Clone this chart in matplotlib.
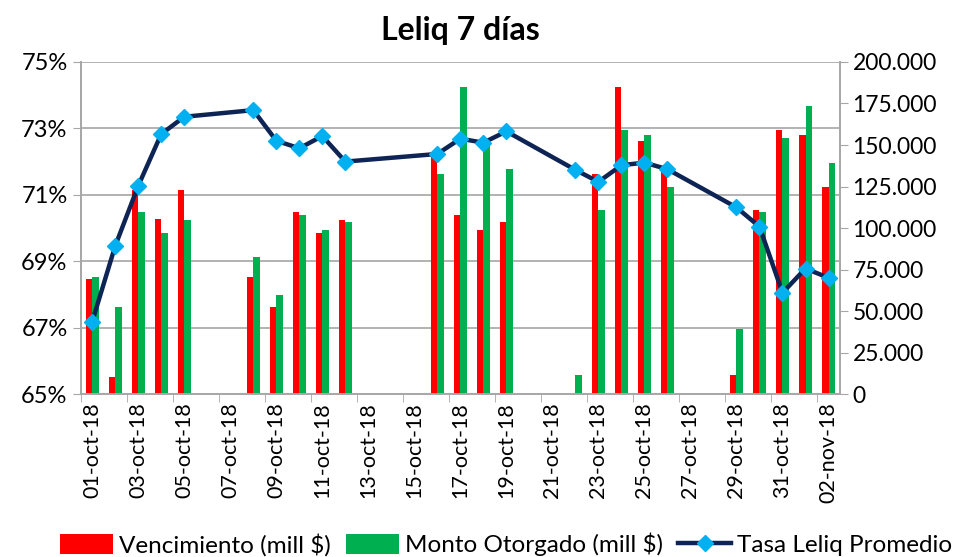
import numpy as np
import matplotlib.pyplot as plt
from matplotlib.ticker import FuncFormatter, MultipleLocator

# datos (01-oct-18 a 02-nov-18)
dias = ["01-oct-18", "02-oct-18", "03-oct-18", "04-oct-18", "05-oct-18", "06-oct-18",
        "07-oct-18", "08-oct-18", "09-oct-18", "10-oct-18", "11-oct-18", "12-oct-18",
        "13-oct-18", "14-oct-18", "15-oct-18", "16-oct-18", "17-oct-18", "18-oct-18",
        "19-oct-18", "20-oct-18", "21-oct-18", "22-oct-18", "23-oct-18", "24-oct-18",
        "25-oct-18", "26-oct-18", "27-oct-18", "28-oct-18", "29-oct-18", "30-oct-18",
        "31-oct-18", "01-nov-18", "02-nov-18"]
nan = np.nan
vencimiento = [69100, 10000, 123000, 105600, 123100, 0, 0, 70300, 52200, 109500, 97200,
               104800, 0, 0, 0, 142900, 108000, 98800, 103400, 0, 0, 0, 132300, 185100,
               152200, 136000, 0, 0, 11600, 110800, 159000, 156000, 124900]
monto = [70300, 52200, 109500, 97200, 104800, 0, 0, 82700, 59600, 108000, 98800,
         103400, 0, 0, 0, 132300, 185100, 151000, 135500, 0, 0, 11600, 110800, 159000,
         156000, 124900, 0, 0, 39400, 109500, 154400, 173700, 139000]
tasa = [67.18, 69.46, 71.27, 72.83, 73.35, nan, nan, 73.55, 72.63, 72.40, 72.77,
        72.00, nan, nan, nan, 72.23, 72.69, 72.57, 72.91, nan, nan, 71.75, 71.39, 71.89,
        71.97, 71.77, nan, nan, 70.62, 70.04, 68.05, 68.78, 68.50]

plt.rcParams['font.family'] = ['Lato', 'DejaVu Sans']

x = np.arange(len(dias))
tasa = np.array(tasa)
ok = ~np.isnan(tasa)

fig = plt.figure(figsize=(9.55, 5.57), dpi=100)
ax = fig.add_axes([0.0845, 0.2926, 0.7951, 0.5961])
ax2 = ax.twinx()

# barras en el eje derecho
w = 0.29
ax2.bar(x - w / 2, vencimiento, width=w, color="#FF0000", label="Vencimiento (mill $)")
ax2.bar(x + w / 2, monto, width=w, color="#00B050", label="Monto Otorgado (mill $)")
ax2.set_ylim(0, 200000)
ax2.yaxis.set_major_locator(MultipleLocator(25000))
ax2.yaxis.set_major_formatter(FuncFormatter(lambda v, p: "0" if v == 0 else f"{int(v):,}".replace(",", ".")))

# linea en el eje izquierdo, por encima de las barras
ax.set_zorder(ax2.get_zorder() + 1)
ax.patch.set_visible(False)
ax.plot(x[ok], tasa[ok], color="#0D2455", lw=3.2, marker="D", ms=8,
        mfc="#00B0F0", mec="#00B0F0", label="Tasa Leliq Promedio", zorder=5)
ax.set_ylim(65, 75)
ax.set_yticks([65, 67, 69, 71, 73, 75])
ax.yaxis.set_major_formatter(FuncFormatter(lambda v, p: f"{v:.0f}%"))
ax.set_xlim(-0.5, len(dias) - 0.5)

# grilla horizontal detras de las barras
for yv in [67, 69, 71, 73, 75]:
    ax2.axhline((yv - 65) / 10 * 200000, color="#A6A6A6", lw=1.2, zorder=0)

ax.set_xticks(x[::2])
ax.set_xticklabels(dias[::2], rotation=90, fontsize=15.5)
ax.set_xticks(np.arange(-0.5, len(dias), 2), minor=True)
ax.tick_params(axis="x", which="major", length=0, pad=6)
ax.tick_params(axis="x", which="minor", length=6, color="#A6A6A6")
ax.tick_params(axis="y", labelsize=17, length=6, color="#A6A6A6")
ax2.tick_params(axis="y", labelsize=16.5, length=6, color="#A6A6A6", pad=3)

for a in (ax, ax2):
    for s in a.spines.values():
        s.set_color("#A6A6A6")
        s.set_linewidth(1.2)
    a.spines["top"].set_visible(False)

ax.set_title("Leliq 7 días", fontsize=23, fontweight="bold", pad=16)

h1, l1 = ax2.get_legend_handles_labels()
h2, l2 = ax.get_legend_handles_labels()
fig.legend(h1 + h2, l1 + l2, loc="lower center", bbox_to_anchor=(0.53, -0.038), ncol=3,
           frameon=False, fontsize=17.5, handlelength=2.2, handleheight=0.9,
           handletextpad=0.25, columnspacing=0.6)

fig.savefig("out.png", dpi=100)
